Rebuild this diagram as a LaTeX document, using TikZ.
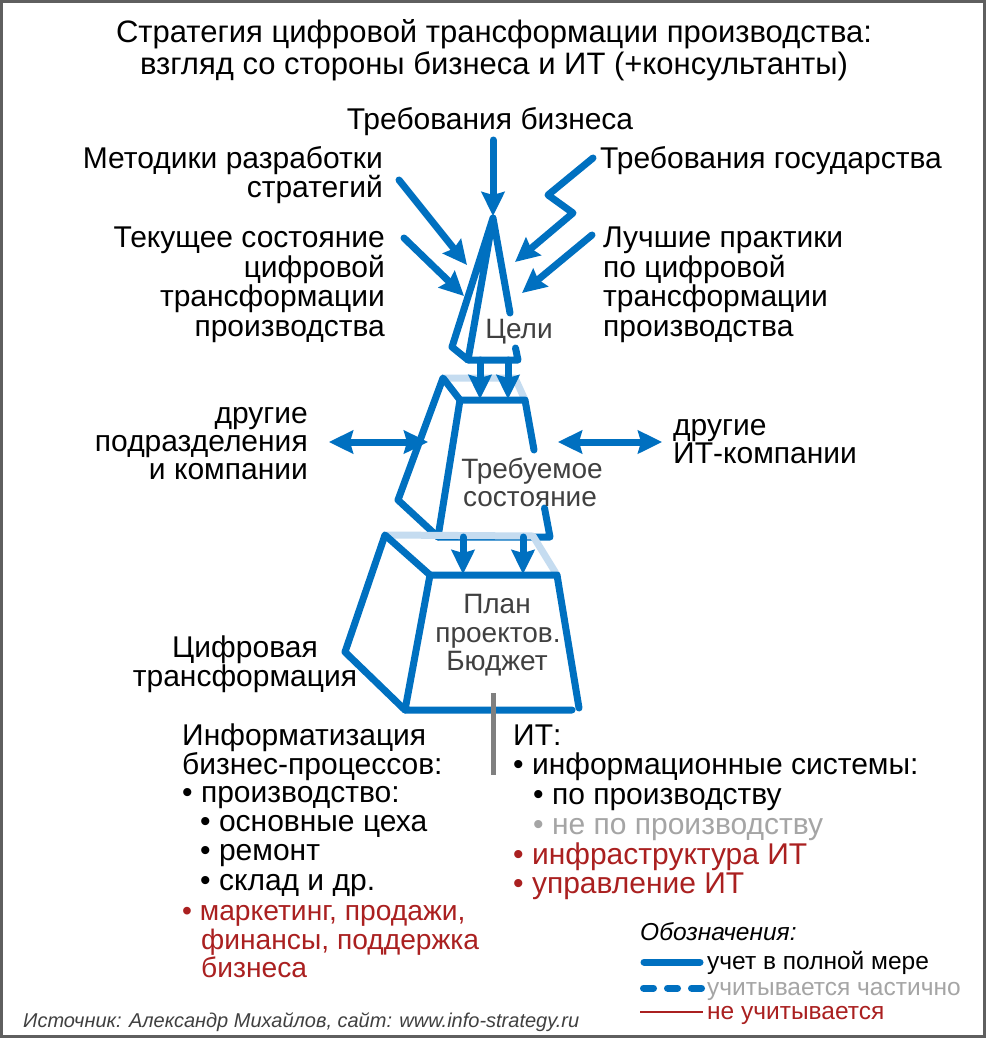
\documentclass[tikz,border=0pt]{standalone}
\usepackage{fontspec}
\setmainfont{Liberation Sans}
\usetikzlibrary{arrows.meta}
\definecolor{myblue}{RGB}{0,112,192}
\definecolor{lightblue}{RGB}{197,220,240}
\definecolor{myred}{RGB}{170,32,32}
\definecolor{ltgray}{RGB}{165,165,165}
\definecolor{dkgray}{RGB}{64,64,64}
\definecolor{framegray}{RGB}{95,95,95}
\definecolor{midgray}{RGB}{128,128,128}
\newcommand\mainsz{\fontsize{30}{32}\selectfont}
\newcommand\redsz{\fontsize{28.2}{32}\selectfont}
\newcommand\lblsz{\fontsize{28}{30}\selectfont}
\newcommand\legsz{\fontsize{24.5}{27}\selectfont}
\newcommand\srcsz{\fontsize{20}{23}\selectfont}
\newcommand\titsz{\fontsize{31}{34}\selectfont}
\tikzset{
  blueline/.style={draw=myblue, line width=7pt, line cap=round, line join=round},
  lightline/.style={draw=lightblue, line width=7pt, line cap=round, line join=round},
  arr/.style={blueline, -{Stealth[length=24pt,width=23pt,inset=3pt]}},
  darr/.style={blueline, {Stealth[length=24pt,width=23pt,inset=3pt]}-{Stealth[length=24pt,width=23pt,inset=3pt]}},
  txt/.style={inner sep=0pt, font=\mainsz, text=black},
  redtxt/.style={inner sep=0pt, font=\redsz, text=myred},
  lbl/.style={inner sep=0pt, font=\lblsz, text=dkgray},
}
\begin{document}
\begin{tikzpicture}[x=1pt,y=-1pt]
\useasboundingbox (0,0) rectangle (986,1038);
\fill[white] (0,0) rectangle (986,1038);
\draw[framegray, line width=3pt] (1.5,1.5) rectangle (984.5,1036.5);

% title
\node[txt, font=\titsz, anchor=base] (t1) at (494,43) {Стратегия цифровой трансформации производства:};
\node[txt, font=\titsz, anchor=base] (t2) at (494,75) {взгляд со стороны бизнеса и ИТ (+консультанты)};

% top labels
\node[txt, anchor=base] (reqbiz) at (490,129) {Требования бизнеса};
\node[txt, anchor=base east] (met1) at (383,168) {Методики разработки};
\node[txt, anchor=base east] (met2) at (383,197) {стратегий};
\node[txt, anchor=base west] (gos) at (600,168) {Требования государства};
\node[txt, anchor=base east] (cur1) at (385,247) {Текущее состояние};
\node[txt, anchor=base east] (cur2) at (385,277) {цифровой};
\node[txt, anchor=base east] (cur3) at (385,306) {трансформации};
\node[txt, anchor=base east] (cur4) at (385,336) {производства};
\node[txt, anchor=base west] (best1) at (603,247) {Лучшие практики};
\node[txt, anchor=base west] (best2) at (603,277) {по цифровой};
\node[txt, anchor=base west] (best3) at (603,306) {трансформации};
\node[txt, anchor=base west] (best4) at (603,336) {производства};

% side labels
\node[txt, anchor=base east] (oth1) at (308,423) {другие};
\node[txt, anchor=base east] (oth2) at (308,451) {подразделения};
\node[txt, anchor=base east] (oth3) at (308,479) {и компании};
\node[txt, anchor=base west] (it1) at (673,435) {другие};
\node[txt, anchor=base west] (it2) at (673,463) {ИТ-компании};
\node[txt, anchor=base] (dt1) at (245,657) {Цифровая};
\node[txt, anchor=base] (dt2) at (245,686) {трансформация};

% pyramid: goals
\coordinate (A) at (493,218);
\coordinate (GL) at (452,347);
\coordinate (GB1) at (468,360);
\coordinate (GB2) at (518,360);
\coordinate (GR1) at (510,313);
\coordinate (GR2) at (515.5,348);
\draw[blueline] (GR1) -- (A) -- (GL) -- (GB1) -- (A);
\draw[blueline] (GR2) -- (GB2) -- (GB1);
\node[lbl, anchor=base] (goals) at (519,338) {Цели};

% pyramid: required state
\coordinate (S1) at (460,400);
\coordinate (S2) at (525,400);
\coordinate (S3) at (550,537);
\coordinate (S4) at (438,537);
\coordinate (SF1) at (443,378);
\coordinate (SF2) at (398,500);
\coordinate (SB) at (515,378);
\coordinate (SRa) at (534,450);
\coordinate (SRb) at (544.5,508);
\draw[lightline] (SF1) -- (SB) -- (S2);
\draw[blueline] (SRa) -- (S2) -- (S1) -- (S4) -- (S3) -- (SRb);
\draw[blueline] (S1) -- (SF1) -- (SF2) -- (S4);
\node[lbl, anchor=base] (req1) at (532,478) {Требуемое};
\node[lbl, anchor=base] (req2) at (530,506) {состояние};

% pyramid: plan
\coordinate (P1) at (430,575);
\coordinate (P2) at (557,575);
\coordinate (P3) at (579,708);
\coordinate (P3b) at (572,710);
\coordinate (P4) at (405,710);
\coordinate (PF1) at (385,535);
\coordinate (PF2) at (345,652);
\coordinate (PB) at (533,536);
\draw[lightline] (PF1) -- (PB) -- (P2);
\draw[blueline] (P3) -- (P2) -- (P1) -- (P4) -- (P3b);
\draw[blueline] (P1) -- (PF1) -- (PF2) -- (P4);
\node[lbl, anchor=base] (pl1) at (497,613) {План};
\node[lbl, anchor=base] (pl2) at (498,642) {проектов.};
\node[lbl, anchor=base] (pl3) at (497,670) {Бюджет};

% arrows into goals
\coordinate (a1s) at (493,140);
\coordinate (a1e) at (493,216);
\draw[arr] (a1s) -- (a1e);
\coordinate (a2s) at (399,180);
\coordinate (a2e) at (467,265);
\draw[arr] (a2s) -- (a2e);
\coordinate (a3s) at (404,238);
\coordinate (a3e) at (464,296);
\draw[arr] (a3s) -- (a3e);
\coordinate (a4s) at (593,158);
\coordinate (a4m1) at (548,195);
\coordinate (a4m2) at (573,213);
\coordinate (a4e) at (515,262);
\draw[arr] (a4s) -- (a4m1) -- (a4m2) -- (a4e);
\coordinate (a5s) at (592,235);
\coordinate (a5e) at (522,293);
\draw[arr] (a5s) -- (a5e);

% arrows between levels
\coordinate (b1s) at (480,360); \coordinate (b1e) at (480,399);
\coordinate (b2s) at (508,360); \coordinate (b2e) at (508,399);
\draw[arr] (b1s) -- (b1e);
\draw[arr] (b2s) -- (b2e);
\coordinate (c1s) at (463,537); \coordinate (c1e) at (463,574);
\coordinate (c2s) at (523,537); \coordinate (c2e) at (523,574);
\draw[arr] (c1s) -- (c1e);
\draw[arr] (c2s) -- (c2e);

% double arrows
\coordinate (dl1) at (329,442); \coordinate (dl2) at (428,442);
\draw[darr] (dl1) -- (dl2);
\coordinate (dr1) at (558,442); \coordinate (dr2) at (662,442);
\draw[darr] (dr1) -- (dr2);

% gray divider
\coordinate (g1) at (493,693); \coordinate (g2) at (493,775);
\draw[midgray, line width=5pt] (g1) -- (g2);

% left list
\node[txt, anchor=base west] (l1) at (182,745) {Информатизация};
\node[txt, anchor=base west] (l2) at (182,774) {бизнес-процессов:};
\node[txt, anchor=base west] (l3) at (182,802) {• производство:};
\node[txt, anchor=base west] (l4) at (200,831) {• основные цеха};
\node[txt, anchor=base west] (l5) at (200,860) {• ремонт};
\node[txt, anchor=base west] (l6) at (200,890) {• склад и др.};
\node[redtxt, anchor=base west] (l7) at (182,920) {• маркетинг, продажи,};
\node[redtxt, anchor=base west] (l8) at (201,949) {финансы, поддержка};
\node[redtxt, anchor=base west] (l9) at (201,977) {бизнеса};

% right list
\node[txt, anchor=base west] (r1) at (513,745) {ИТ:};
\node[txt, anchor=base west] (r2) at (513,774) {• информационные системы:};
\node[txt, anchor=base west] (r3) at (533,804) {• по производству};
\node[txt, anchor=base west, text=ltgray] (r4) at (533,834) {• не по производству};
\node[txt, anchor=base west, text=myred] (r5) at (513,864) {• инфраструктура ИТ};
\node[txt, anchor=base west, text=myred] (r6) at (513,893) {• управление ИТ};

% legend
\node[inner sep=0pt, font=\legsz\itshape, anchor=base west] (lg0) at (640,940) {Обозначения:};
\coordinate (lgs1) at (644,962); \coordinate (lge1) at (700,962);
\draw[blueline] (lgs1) -- (lge1);
\node[inner sep=0pt, font=\legsz, anchor=base west] (lg1) at (707,969) {учет в полной мере};
\coordinate (lgs2) at (643.5,988); \coordinate (lge2) at (701.5,988);
\draw[blueline, dash pattern=on 10pt off 14pt] (lgs2) -- (lge2);
\node[inner sep=0pt, font=\legsz, text=ltgray, anchor=base west] (lg2) at (707,995) {учитывается частично};
\coordinate (lgs3) at (640,1012); \coordinate (lge3) at (703,1012);
\draw[myred, line width=2pt] (lgs3) -- (lge3);
\node[inner sep=0pt, font=\legsz, text=myred, anchor=base west] (lg3) at (707,1019) {не учитывается};

% source
\node[inner sep=0pt, font=\srcsz\itshape, text=dkgray, anchor=base west] (src) at (23,1027) {Источник: Александр Михайлов, сайт: www.info-strategy.ru};
\end{tikzpicture}
\end{document}
